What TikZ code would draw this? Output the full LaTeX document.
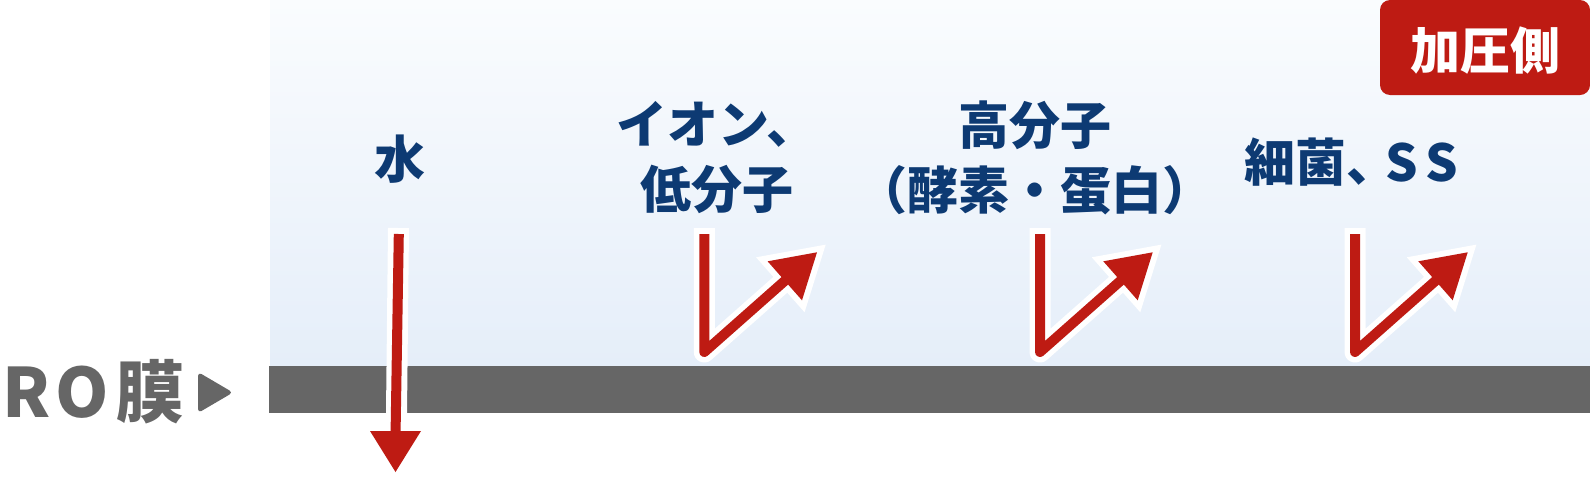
\documentclass[tikz,border=0pt]{standalone}
\usepackage{fontspec}
\newfontfamily\jp{Noto Sans CJK JP}
\usetikzlibrary{calc}
\definecolor{navy}{RGB}{13,58,115}
\definecolor{arrred}{RGB}{190,27,19}
\definecolor{membgray}{RGB}{102,102,102}
\definecolor{bgtop}{RGB}{250,252,254}
\definecolor{bgbot}{RGB}{229,238,249}
\tikzset{
  lbl/.style={text=navy, inner sep=0pt, align=center, font=\jp\bfseries\fontsize{51}{65}\selectfont},
  wline/.style={draw=white, line width=21pt, line join=round, line cap=butt},
  rline/.style={draw=arrred, line width=10pt, line join=round, line cap=butt},
  whead/.style={fill=white, draw=white, line width=12pt, line join=miter},
  rhead/.style={fill=arrred},
}
\begin{document}
\begin{tikzpicture}[x=1pt,y=-1pt]
\useasboundingbox (0,0) rectangle (1590,480);
% background and membrane
\shade[top color=bgtop, bottom color=bgbot] (270,0) rectangle (1590,366);
\fill[membgray] (269,366) rectangle (1590,413);
% pressure side badge
\fill[arrred, rounded corners=10pt] (1380,0) rectangle (1590,95);
\node[text=white, inner sep=0pt, font=\jp\bfseries\fontsize{50}{60}\selectfont] (side) at (1485,51) {加圧側};
% RO membrane label
\node[anchor=west, text=membgray, inner sep=0pt, font=\jp\bfseries\fontsize{68}{80}\selectfont] (ro) at (2,392) {R\hspace{5pt}O\hspace{8pt}膜};
\fill[membgray, rounded corners=4pt] (198,372) -- (233,392.5) -- (198,413) -- cycle;
% labels
\node[lbl] (water) at (399.5,159) {水};
\node[lbl] (ion) at (717,158) {イオン、\\低分子};
\node[lbl] (macro) at (1035,158) {高分子\\（酵素・蛋白）};
\node[lbl, anchor=west] (bact) at (1244,162) {細菌、\hspace{-12pt}S\hspace{8pt}S};
% water arrow
\coordinate (ws) at (398.8,234);
\coordinate (wb) at (395.5,431);
\coordinate (wt) at (395.5,472);
\coordinate (wl) at (370,431);
\coordinate (wr) at (421,431);
\draw[wline] (398.5,228) -- (396.5,413);
\draw[rline] (ws) -- ($(wb)+(0,6)$);
\fill[rhead] (wt) -- (wl) -- (wr) -- cycle;
% rejected arrows
\foreach \n/\x in {a/704.3,b/1040,c/1355}{
  \coordinate (w\n) at (\x,228);
  \coordinate (s\n) at (\x,234);
  \coordinate (k\n) at (\x,352);
  \coordinate (e\n) at (\x+88,274.2);
  \coordinate (t\n) at (\x+112.7,252.3);
  \coordinate (l\n) at (\x+63.3,261.3);
  \coordinate (r\n) at (\x+97.7,300.3);
  \draw[wline] (w\n) -- (k\n) -- (e\n);
  \filldraw[whead] (t\n) -- (l\n) -- (r\n) -- cycle;
  \draw[rline] (s\n) -- (k\n) -- (e\n);
  \fill[rhead] (t\n) -- (l\n) -- (r\n) -- cycle;
}
\end{tikzpicture}
\end{document}
